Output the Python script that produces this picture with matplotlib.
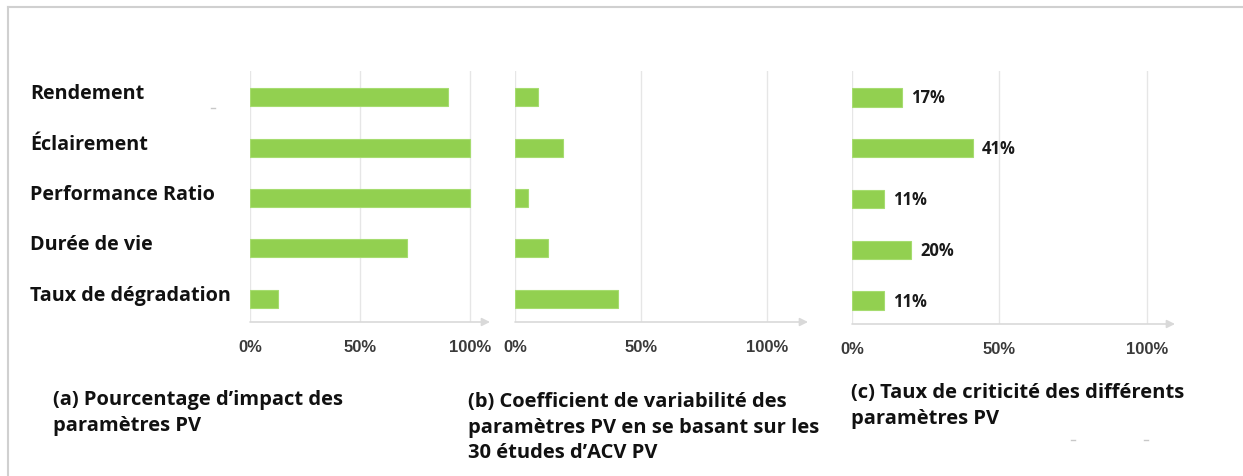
import matplotlib
matplotlib.use("Agg")
import matplotlib.pyplot as plt
from matplotlib.lines import Line2D

# Donnees
params = ["Rendement", "Éclairement", "Performance Ratio", "Durée de vie", "Taux de dégradation"]
impact = [0.90, 1.00, 1.00, 0.715, 0.125]          # (a)
variabilite = [0.09, 0.19, 0.05, 0.13, 0.41]       # (b)
criticite = [0.17, 0.41, 0.11, 0.20, 0.11]         # (c)
crit_labels = ["17%", "41%", "11%", "20%", "11%"]
ticks = [0, 0.5, 1.0]
tick_labels = ["0%", "50%", "100%"]
captions = [
    "(a) Pourcentage d’impact des\nparamètres PV",
    "(b) Coefficient de variabilité des\nparamètres PV en se basant sur les\n30 études d’ACV PV",
    "(c) Taux de criticité des différents\nparamètres PV",
]

W, H = 1243, 477
fig = plt.figure(figsize=(W / 100, H / 100), dpi=100)
fig.patch.set_facecolor("white")

GREEN = "#92D050"
GRID = "#d9d9d9"
LABEL_FONT = ["Open Sans", "DejaVu Sans"]


def px_axes(x0, x1, y0, y1):
    return fig.add_axes([x0 / W, 1 - y1 / H, (x1 - x0) / W, (y1 - y0) / H])


def draw_panel(ax, values, xmax):
    y = list(range(len(values)))
    ax.barh(y, values, height=0.36, color=GREEN, edgecolor="#a6dc70", lw=0.8, zorder=3)
    ax.set_xlim(0, xmax)
    ax.set_ylim(4.46, -0.52)
    for s in ax.spines.values():
        s.set_visible(False)
    ax.set_yticks([])
    ax.set_xticks(ticks)
    ax.set_xticklabels(tick_labels, family="Liberation Sans", weight="bold",
                       fontsize=12, color="#3a3a3a")
    ax.tick_params(axis="x", length=0, pad=12)
    for t in ticks:
        ax.axvline(t, color="#e6e6e6", lw=1.0, zorder=1)
    ax.annotate("", xy=(1, 0), xytext=(0, 0), xycoords="axes fraction",
                arrowprops=dict(arrowstyle="-|>", color=GRID, lw=1.2,
                                mutation_scale=12, shrinkA=0, shrinkB=0))
    ax.patch.set_alpha(0)
    return y


# (a)
ax_a = px_axes(250, 490, 72, 323)
draw_panel(ax_a, impact, 1.09)
# (b)
ax_b = px_axes(515, 808, 72, 323)
draw_panel(ax_b, variabilite, 1.163)
# (c)
ax_c = px_axes(852, 1175, 72, 325)
yc = draw_panel(ax_c, criticite, 1.095)
for yi, v, lab in zip(yc, criticite, crit_labels):
    ax_c.annotate(lab, (v, yi), xytext=(9, 0), textcoords="offset pixels",
                  ha="left", va="center", family=LABEL_FONT, weight="bold",
                  fontsize=12, color="#1a1a1a")

# noms des parametres
for i, p in enumerate(params):
    ax_a.annotate(p, (0, i), xycoords=("figure fraction", "data"),
                  xytext=(30, 4), textcoords="offset pixels",
                  ha="left", va="center", family=LABEL_FONT, weight="bold",
                  fontsize=14.2, color="#111111")

# legendes
cap_pos = [(53, 390), (468, 392), (851, 383)]
for (cx, cy), cap in zip(cap_pos, captions):
    fig.text(cx / W, 1 - cy / H, cap, ha="left", va="top", family=LABEL_FONT,
             weight="bold", fontsize=14.5, color="#111111", linespacing=1.38)

# cadre
fig.add_artist(Line2D([8 / W, 1], [1 - 8 / H, 1 - 8 / H], color="#d0d0d0", lw=1.5))
fig.add_artist(Line2D([8 / W, 8 / W], [0, 1 - 8 / H], color="#d0d0d0", lw=1.5))
# petites marques grises
for mx, my in [(213, 109), (1073, 441), (1146, 441)]:
    fig.add_artist(Line2D([(mx - 2) / W, (mx + 2) / W], [1 - my / H, 1 - my / H],
                          color="#c8c8c8", lw=1))

fig.savefig("out.png", dpi=100)
